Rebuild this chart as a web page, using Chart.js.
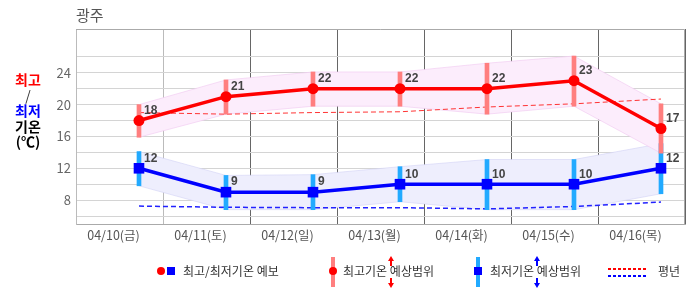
<!DOCTYPE html>
<html>
<head>
<meta charset="utf-8">
<script src="https://cdn.jsdelivr.net/npm/chart.js@4.4.1/dist/chart.umd.min.js"></script>
<style>
    body { margin: 0; background: #fff; font-family: "Noto Sans CJK KR", "Noto Sans", sans-serif; }
    #wrap { position: relative; width: 686px; height: 295px; overflow: hidden; }
    #wrap canvas { position: absolute; left: 0; top: 0; }
    .t { position: absolute; white-space: nowrap; font-size: 12px; line-height: 18px; color: #333; }
    .mk { position: absolute; }
</style>
</head>
<body>
<div id="wrap">
    <canvas id="chart" width="686" height="295"></canvas>

    <div class="t" style="left:76px;top:5px;font-size:15px;line-height:20px;color:#555">광주</div>

    <div style="position:absolute;left:9px;top:72px;width:38px;text-align:center;font-weight:bold;font-size:14px;line-height:15.5px;color:#000">
        <div style="color:#f00">최고</div>
        <div style="font-weight:normal;color:#333">/</div>
        <div style="color:#00f">최저</div>
        <div>기온</div>
        <div>(℃)</div>
    </div>

    <!-- legend -->
    <div class="mk" style="left:157px;top:267px;width:8px;height:8px;border-radius:50%;background:#f00"></div>
    <div class="mk" style="left:167px;top:267px;width:8px;height:8px;background:#00f"></div>
    <div class="t" style="left:183px;top:262px">최고/최저기온 예보</div>

    <div class="mk" style="left:331px;top:257px;width:4px;height:30px;background:#ff7f7f"></div>
    <div class="mk" style="left:329px;top:267px;width:8px;height:8px;border-radius:50%;background:#f00"></div>
    <div class="t" style="left:343px;top:262px">최고기온 예상범위</div>
    <div class="mk" style="left:388px;top:256px;width:0;height:0;border-left:3px solid transparent;border-right:3px solid transparent;border-bottom:5px solid #f00"></div>
    <div class="mk" style="left:390px;top:260px;width:2px;height:6px;background:#f00"></div>
    <div class="mk" style="left:390px;top:278px;width:2px;height:6px;background:#f00"></div>
    <div class="mk" style="left:388px;top:283px;width:0;height:0;border-left:3px solid transparent;border-right:3px solid transparent;border-top:5px solid #f00"></div>

    <div class="mk" style="left:476px;top:257px;width:4px;height:30px;background:#22aaff"></div>
    <div class="mk" style="left:474px;top:267px;width:8px;height:8px;background:#00f"></div>
    <div class="t" style="left:490px;top:262px">최저기온 예상범위</div>
    <div class="mk" style="left:534px;top:256px;width:0;height:0;border-left:3px solid transparent;border-right:3px solid transparent;border-bottom:5px solid #00f"></div>
    <div class="mk" style="left:536px;top:260px;width:2px;height:6px;background:#00f"></div>
    <div class="mk" style="left:536px;top:278px;width:2px;height:6px;background:#00f"></div>
    <div class="mk" style="left:534px;top:283px;width:0;height:0;border-left:3px solid transparent;border-right:3px solid transparent;border-top:5px solid #00f"></div>

    <div class="mk" style="left:608px;top:268px;width:40px;height:2px;background:repeating-linear-gradient(90deg,#f00 0 3px,transparent 3px 5px)"></div>
    <div class="mk" style="left:608px;top:275px;width:40px;height:2px;background:repeating-linear-gradient(90deg,#00f 0 3px,transparent 3px 5px)"></div>
    <div class="t" style="left:658px;top:262px">평년</div>
</div>

<script>
// forecast days
const days = [0, 1, 2, 3, 4, 5, 6];
const xLabels = ['04/10(금)', '04/11(토)', '04/12(일)', '04/13(월)', '04/14(화)', '04/15(수)', '04/16(목)'];

// forecast highs / lows
const maxTemp = [18, 21, 22, 22, 22, 23, 17];
const minTemp = [12, 9, 9, 10, 10, 10, 12];

// expected ranges
const maxHigh = [20, 23.1, 24.1, 24.1, 25.2, 26.1, 20.1];
const maxLow = [15.9, 18.8, 19.8, 19.8, 18.8, 19.8, 13.9];
const minHigh = [14.1, 11.1, 11.2, 12.2, 13.1, 13.1, 15.1];
const minLow = [9.8, 6.8, 6.8, 7.8, 6.8, 6.8, 8.8];

// normals (평년)
const normMax = [19, 18.8, 19, 19.1, 19.7, 20.1, 20.7];
const normMin = [7.25, 7.1, 7.05, 7.05, 6.9, 7.2, 7.75];

// y axis
const yGrid = [6, 8, 10, 12, 14, 16, 18, 20, 22, 24, 26];
const yTickLabels = [8, 12, 16, 20, 24];

const xy = arr => arr.map((v, i) => ({ x: days[i], y: v }));
const span = (lo, hi) => lo.map((v, i) => ({ x: days[i], y: [v, hi[i]] }));

Chart.defaults.font.family = '"Noto Sans CJK KR", "Noto Sans", sans-serif';

// top and right border of the plot
const framePlugin = {
    id: 'frame',
    beforeDatasetsDraw(chart) {
        const { ctx, chartArea: a } = chart;
        ctx.save();
        ctx.strokeStyle = '#aaa';
        ctx.lineWidth = 1;
        ctx.beginPath();
        ctx.moveTo(a.left, a.top + 0.5);
        ctx.lineTo(a.right - 0.5, a.top + 0.5);
        ctx.lineTo(a.right - 0.5, a.bottom);
        ctx.stroke();
        ctx.restore();
    }
};

// value labels next to the forecast points
const valueLabels = {
    id: 'valueLabels',
    afterDatasetsDraw(chart) {
        const ctx = chart.ctx;
        ctx.save();
        ctx.font = 'bold 12px "Liberation Sans", sans-serif';
        ctx.fillStyle = '#444';
        ctx.textBaseline = 'middle';
        chart.data.datasets.forEach((ds, di) => {
            if (!ds.showValues) return;
            chart.getDatasetMeta(di).data.forEach((pt, i) => {
                ctx.fillText(ds.data[i].y, pt.x + 5, pt.y - 10);
            });
        });
        ctx.restore();
    }
};

const lineBase = { type: 'line', xAxisID: 'x', yAxisID: 'y', pointRadius: 0, tension: 0 };

new Chart(document.getElementById('chart'), {
    type: 'line',
    data: {
        datasets: [
            { ...lineBase, data: xy(maxHigh), borderColor: 'rgba(240,200,240,0.6)', borderWidth: 1, fill: false, order: 10 },
            { ...lineBase, data: xy(maxLow), borderColor: 'rgba(240,200,240,0.6)', borderWidth: 1, fill: '-1', backgroundColor: '#fcedfc', order: 10 },
            { ...lineBase, data: xy(minHigh), borderColor: 'rgba(210,210,245,0.6)', borderWidth: 1, fill: false, order: 10 },
            { ...lineBase, data: xy(minLow), borderColor: 'rgba(210,210,245,0.6)', borderWidth: 1, fill: '-1', backgroundColor: '#eeeefd', order: 10 },
            { ...lineBase, data: xy(normMax), borderColor: '#f33', borderWidth: 1, borderDash: [5, 3], fill: false, order: 8 },
            { ...lineBase, data: xy(normMin), borderColor: '#22f', borderWidth: 1.5, borderDash: [5, 3], fill: false, order: 8 },
            { type: 'bar', xAxisID: 'x', yAxisID: 'y', data: span(maxLow, maxHigh), backgroundColor: '#ff7f7f', barThickness: 4, grouped: false, order: 5 },
            { type: 'bar', xAxisID: 'x', yAxisID: 'y', data: span(minLow, minHigh), backgroundColor: '#22aaff', barThickness: 4, grouped: false, order: 5 },
            {
                ...lineBase, data: xy(maxTemp), borderColor: '#f00', borderWidth: 3.5, fill: false,
                pointRadius: 5.5, pointStyle: 'circle', pointBackgroundColor: '#f00', pointBorderWidth: 0,
                showValues: true, order: 1
            },
            {
                ...lineBase, data: xy(minTemp), borderColor: '#00f', borderWidth: 3.5, fill: false,
                pointRadius: 7.5, pointStyle: 'rect', pointBackgroundColor: '#00f', pointBorderWidth: 0,
                showValues: true, order: 1
            }
        ]
    },
    options: {
        responsive: false,
        animation: false,
        layout: { autoPadding: false, padding: { left: 0, top: 29, right: 1, bottom: 51 } },
        plugins: {
            legend: { display: false },
            tooltip: { enabled: false }
        },
        scales: {
            x: {
                type: 'linear',
                display: false,
                offset: false,
                min: -0.724,
                max: 6.276
            },
            xc: {
                type: 'category',
                position: 'bottom',
                labels: xLabels,
                offset: true,
                grid: {
                    offset: true,
                    drawTicks: false,
                    color: (c) => c.index === 1 ? '#bbb' : (c.index === 0 || c.index === 7 ? '#aaa' : '#666')
                },
                border: { color: '#aaa' },
                ticks: { color: '#555', font: { size: 12.5 }, padding: 4, labelOffset: -6, autoSkip: false, maxRotation: 0 },
                afterFit: (s) => { s.height = 20; s.paddingLeft = 0; s.paddingRight = 0; }
            },
            y: {
                type: 'linear',
                position: 'left',
                min: 5,
                max: 29.5,
                beginAtZero: false,
                afterBuildTicks: (s) => { s.ticks = yGrid.map(v => ({ value: v })); },
                grid: { color: '#d4d4d4', drawTicks: false },
                border: { color: '#bbb' },
                ticks: {
                    color: '#666',
                    font: { size: 13 },
                    padding: 5,
                    callback: (v) => yTickLabels.includes(v) ? String(v) : ''
                },
                afterFit: (s) => { s.width = 76; }
            }
        }
    },
    plugins: [framePlugin, valueLabels]
});
</script>
</body>
</html>
